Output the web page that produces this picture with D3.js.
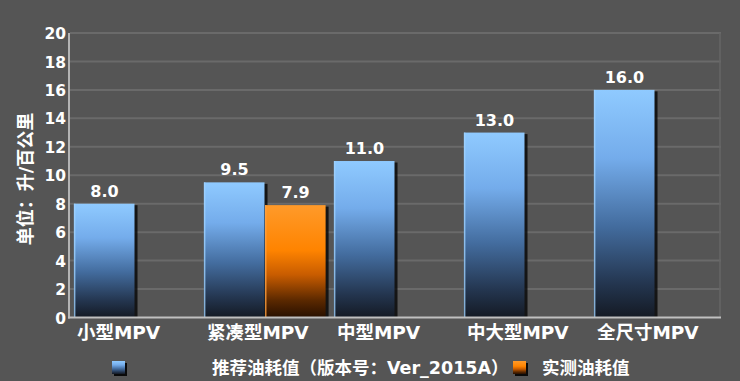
<!DOCTYPE html>
<html>
<head>
<meta charset="utf-8">
<script src="https://cdn.jsdelivr.net/npm/d3@7"></script>
<style>
  html, body { margin: 0; padding: 0; background: #555555; }
  svg { display: block; }
  text { font-family: "DejaVu Sans", "Noto Sans CJK SC", sans-serif; font-weight: bold; fill: #ffffff; }
</style>
</head>
<body>
<svg id="chart" width="740" height="381"></svg>
<script>
const categories = ["小型MPV", "紧凑型MPV", "中型MPV", "中大型MPV", "全尺寸MPV"];
const seriesNames = ["推荐油耗值（版本号：Ver_2015A）", "实测油耗值"];
const recommended = [8.0, 9.5, 11.0, 13.0, 16.0];
const measured = [null, 7.9, null, null, null];
const yTicks = [0, 2, 4, 6, 8, 10, 12, 14, 16, 18, 20];
const yTitle = "单位：升/百公里";

(function () {
const svg = d3.select("#chart");
const W = 740, H = 381;
const mLeft = 70, mRight = 720, mTop = 33, mBottom = 317.5;

svg.append("rect").attr("width", W).attr("height", H).attr("fill", "#555555");

const defs = svg.append("defs");
function grad(id, stops) {
  const g = defs.append("linearGradient").attr("id", id)
    .attr("x1", 0).attr("y1", 0).attr("x2", 0).attr("y2", 1);
  stops.forEach(s => g.append("stop").attr("offset", s[0]).attr("stop-color", s[1]));
}
grad("gBlue", [[0, "#8fcaff"], [0.3, "#74aceb"], [0.6, "#436c9e"], [0.85, "#243650"], [1, "#141a24"]]);
grad("gOrange", [[0, "#ff9a2a"], [0.4, "#ff8400"], [0.62, "#c85c00"], [0.85, "#5a2800"], [1, "#281000"]]);

const x0 = d3.scaleBand().domain(categories).range([mLeft, mRight]).paddingInner(0.06).paddingOuter(0.03);
const x1 = d3.scaleBand().domain([0, 1]).range([0, x0.bandwidth()]);
const y = d3.scaleLinear().domain([0, 20]).range([mBottom, mTop]);

// gridlines
svg.append("g").selectAll("line").data(yTicks.filter(t => t > 0)).join("line")
  .attr("x1", mLeft).attr("x2", mRight + 1)
  .attr("y1", d => y(d)).attr("y2", d => y(d))
  .attr("stroke", "#6a6a6a").attr("stroke-width", 2);
// right border line
svg.append("line").attr("x1", mRight).attr("x2", mRight).attr("y1", y(20)).attr("y2", y(0))
  .attr("stroke", "#666666").attr("stroke-width", 1.5);

// bars
const series = [recommended, measured];
const fills = ["url(#gBlue)", "url(#gOrange)"];
const edges = ["#9fd2ff", "#ffa040"];
const barData = [];
series.forEach((vals, si) => vals.forEach((v, ci) => {
  if (v != null) barData.push({ c: categories[ci], v, si });
}));

const bars = svg.append("g").selectAll("g").data(barData).join("g");
bars.append("rect")
  .attr("x", d => x0(d.c) + x1(d.si) + 2.5)
  .attr("y", d => y(d.v) + 1.5)
  .attr("width", x1.bandwidth())
  .attr("height", d => y(0) - y(d.v) - 1.5)
  .attr("fill", "#0a0a0a").attr("opacity", 0.85);
bars.append("rect")
  .attr("x", d => x0(d.c) + x1(d.si))
  .attr("y", d => y(d.v))
  .attr("width", x1.bandwidth() - 0.5)
  .attr("height", d => y(0) - y(d.v))
  .attr("fill", d => fills[d.si]);
bars.append("line")
  .attr("x1", d => x0(d.c) + x1(d.si) + 0.75)
  .attr("x2", d => x0(d.c) + x1(d.si) + 0.75)
  .attr("y1", d => y(d.v))
  .attr("y2", d => y(0))
  .attr("stroke", d => edges[d.si]).attr("stroke-width", 1.5).attr("opacity", 0.8);

// value labels
bars.append("text")
  .attr("x", d => x0(d.c) + x1(d.si) + x1.bandwidth() / 2)
  .attr("y", d => y(d.v) - 7)
  .attr("text-anchor", "middle")
  .attr("font-size", 16)
  .text(d => d.v.toFixed(1));

// axes lines
svg.append("line").attr("x1", mLeft - 1).attr("x2", mLeft - 1).attr("y1", y(20)).attr("y2", y(0) + 1)
  .attr("stroke", "#b4b4b4").attr("stroke-width", 2);
svg.append("line").attr("x1", mLeft - 2).attr("x2", mRight + 1).attr("y1", y(0)).attr("y2", y(0))
  .attr("stroke", "#c0c0c0").attr("stroke-width", 2);

// y tick labels via axis
const yAxis = d3.axisLeft(y).tickValues(yTicks).tickSize(0).tickPadding(0).tickFormat(d3.format("d"));
const yg = svg.append("g").attr("transform", `translate(${mLeft - 4},0)`).call(yAxis);
yg.select(".domain").remove();
yg.selectAll("text").attr("font-size", 15.5).attr("font-family", null).attr("fill", "#ffffff")
  .attr("dy", "0.36em");

// x category labels
svg.append("g").selectAll("text").data(categories).join("text")
  .attr("x", d => x0(d) + 3)
  .attr("y", 339)
  .attr("font-size", 18.5)
  .text(d => d);

// y title
svg.append("text")
  .attr("transform", `translate(32,179) rotate(-90)`)
  .attr("text-anchor", "middle")
  .attr("font-size", 18)
  .text(yTitle);

// legend
const legend = [
  { name: seriesNames[0], fill: fills[0], sx: 112, tx: 212 },
  { name: seriesNames[1], fill: fills[1], sx: 513, tx: 542 }
];
const lg = svg.append("g").selectAll("g").data(legend).join("g");
lg.append("rect").attr("x", d => d.sx + 2).attr("y", 363).attr("width", 13).attr("height", 13).attr("fill", "#0a0a0a");
lg.append("rect").attr("x", d => d.sx).attr("y", 361).attr("width", 13).attr("height", 13).attr("fill", d => d.fill);
lg.append("text").attr("x", d => d.tx).attr("y", 374).attr("font-size", 17.5).text(d => d.name);
})();
</script>
</body>
</html>
